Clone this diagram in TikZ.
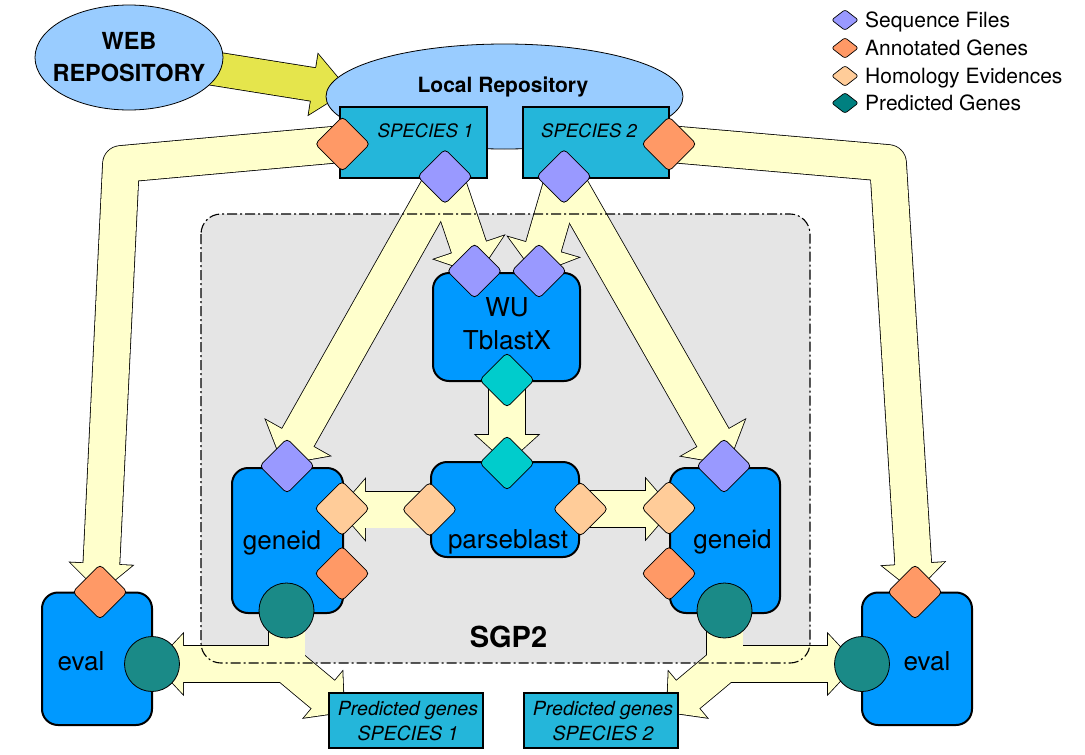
\documentclass[tikz,border=0pt]{standalone}
\usepackage{fontspec}
\setmainfont{TeX Gyre Heros}
\usetikzlibrary{calc,shapes.geometric}
\pgfdeclarelayer{paper}
\pgfdeclarelayer{sgpfill}
\pgfdeclarelayer{arrowout}
\pgfdeclarelayer{arrowin}
\pgfdeclarelayer{sgpline}
\pgfsetlayers{paper,sgpfill,arrowout,arrowin,sgpline,main}

\definecolor{lblue}{RGB}{153,204,255}
\definecolor{specblue}{RGB}{36,182,218}
\definecolor{procblue}{RGB}{0,153,255}
\definecolor{seqc}{RGB}{153,153,255}
\definecolor{annc}{RGB}{255,153,102}
\definecolor{homc}{RGB}{255,204,153}
\definecolor{predc}{RGB}{26,138,135}
\definecolor{predleg}{RGB}{0,128,128}
\definecolor{blastc}{RGB}{0,204,204}
\definecolor{fatc}{RGB}{255,255,204}
\definecolor{sgpgray}{RGB}{229,229,229}
\definecolor{webarrowc}{RGB}{229,229,76}

\tikzset{
  procbox/.style={rectangle, draw=black, line width=2pt, fill=procblue, rounded corners=16pt, inner sep=0pt},
  specbox/.style={rectangle, draw=black, line width=1.3pt, fill=specblue, inner sep=0pt},
  repo/.style={ellipse, draw=black, line width=0.8pt, fill=lblue, inner sep=0pt},
  datadia/.style={diamond, draw=black, line width=0.8pt, minimum width=55pt, minimum height=55pt, inner sep=0pt, rounded corners=4pt},
  legdia/.style={diamond, draw=black, line width=0.7pt, minimum width=27pt, minimum height=21pt, inner sep=0pt, rounded corners=2.5pt},
  predcirc/.style={circle, draw=black, line width=0.8pt, fill=predc, minimum size=55pt, inner sep=0pt},
  boxlabel/.style={inner sep=0pt, font=\fontsize{26}{33}\selectfont, align=center},
  speclabel/.style={inner sep=0pt, font=\fontsize{18.5}{24}\selectfont\itshape, anchor=base},
  predlabel/.style={inner sep=0pt, font=\fontsize{19.5}{25}\selectfont\itshape, align=center},
  leglabel/.style={inner sep=0pt, font=\fontsize{21}{25}\selectfont, anchor=base west},
  boldlabel/.style={inner sep=0pt, align=center},
  sgpborder/.style={draw=black, line width=1.1pt, dash pattern=on 10pt off 3pt on 2pt off 3pt, rounded corners=20pt},
  fatout/.style={draw=black, line width=37.6pt, line join=round},
  fatin/.style={draw=fatc, line width=36pt, line join=round},
}

\newcommand{\arrowlist}{%
 \onearrow{(s1ann.center) -- (c1)}{c1}{e1ann.center}{28}{62}%
 \onearrow{(s2ann.center) -- (c2)}{c2}{e2ann.center}{28}{62}%
 \onearrow{(s1seq.center)}{s1seq.center}{t3}{30}{73}%
 \onearrow{(s1seq.center)}{s1seq.center}{t4}{28}{73}%
 \onearrow{(s2seq.center)}{s2seq.center}{t5}{28}{73}%
 \onearrow{(s2seq.center)}{s2seq.center}{t6}{30}{73}%
 \onearrow{(wuout.center)}{wuout.center}{pbin.center}{28}{62}%
 \onearrow{(pbL.center)}{pbL.center}{t8}{26}{60}%
 \onearrow{(pbR.center)}{pbR.center}{t9}{26}{60}%
 \onearrow{(g1pred.center) -- (j1)}{j1}{t10}{28}{60}%
 \onearrow{(j1)}{j1}{t11}{27}{60}%
 \onearrow{(g2pred.center) -- (j2)}{j2}{t12}{28}{60}%
 \onearrow{(j2)}{j2}{t13}{27}{60}%
}

\begin{document}
\begin{tikzpicture}[x=1pt,y=-1pt]
\useasboundingbox (0,0) rectangle (1085,755);
\begin{pgfonlayer}{paper}
  \fill[white] (0,0) rectangle (1085,755);
\end{pgfonlayer}

% ---------- SGP2 area ----------
\coordinate (sgA) at (201,214);
\coordinate (sgB) at (810,663);
\begin{pgfonlayer}{sgpfill}
  \fill[sgpgray, rounded corners=20pt] (sgA) rectangle (sgB);
\end{pgfonlayer}
\begin{pgfonlayer}{sgpline}
  \draw[sgpborder] (sgA) rectangle (sgB);
\end{pgfonlayer}

% ---------- repositories ----------
\node[repo, minimum width=188pt, minimum height=105pt] (web) at (129,57.5) {};
\node[repo, minimum width=357pt, minimum height=105pt] (local) at (504.5,96.5) {};
\node[boldlabel, font=\fontsize{23.5}{32}\selectfont\bfseries] (webtext) at (129,57) {WEB\\REPOSITORY};
\node[boldlabel, font=\fontsize{21}{25}\selectfont\bfseries, anchor=base] (localtext) at (503,92) {Local Repository};

% ---------- boxes ----------
\node[specbox, minimum width=147pt, minimum height=71pt] (sp1) at (413.5,142.5) {};
\node[specbox, minimum width=146pt, minimum height=71pt] (sp2) at (596,142.5) {};
\node[procbox, minimum width=147pt, minimum height=108pt] (wu) at (506.5,327) {};
\node[procbox, minimum width=148pt, minimum height=95pt] (pb) at (505,509.5) {};
\node[procbox, minimum width=111pt, minimum height=145pt] (g1) at (287.5,540.5) {};
\node[procbox, minimum width=110pt, minimum height=145pt] (g2) at (725,540.5) {};
\node[procbox, minimum width=110pt, minimum height=132.5pt] (e1) at (97,658.75) {};
\node[procbox, minimum width=110pt, minimum height=132.5pt] (e2) at (917,658.75) {};
\node[specbox, minimum width=154pt, minimum height=55pt] (pr1) at (406,720.5) {};
\node[specbox, minimum width=154pt, minimum height=55pt] (pr2) at (601,720.5) {};

% ---------- labels ----------
\node[speclabel] (sp1text) at (425.5,137) {SPECIES 1};
\node[speclabel] (sp2text) at (589,137) {SPECIES 2};
\node[boxlabel] (wutext) at (507,324) {WU\\TblastX};
\node[boxlabel, anchor=base] (pbtext) at (508,548) {parseblast};
\node[boxlabel, anchor=base] (g1text) at (282,549) {geneid};
\node[boxlabel, anchor=base] (g2text) at (732.5,548) {geneid};
\node[boxlabel, anchor=base] (e1text) at (81,670) {eval};
\node[boxlabel, anchor=base] (e2text) at (927,670) {eval};
\node[predlabel] (pr1text) at (408,721) {Predicted genes\\SPECIES 1};
\node[predlabel] (pr2text) at (603,721) {Predicted genes\\SPECIES 2};
\node[boldlabel, font=\fontsize{29}{32}\selectfont\bfseries, anchor=base] (sgptext) at (508.5,647) {SGP2};

% ---------- data diamonds ----------
\node[datadia, fill=annc] (s1ann) at (342.5,144) {};
\node[datadia, fill=seqc] (s1seq) at (445,176.5) {};
\node[datadia, fill=seqc] (s2seq) at (564,176.5) {};
\node[datadia, fill=annc] (s2ann) at (669,144) {};
\node[datadia, fill=seqc] (wuA) at (474.5,271) {};
\node[datadia, fill=seqc] (wuB) at (539,271) {};
\node[datadia, fill=blastc] (wuout) at (507,380) {};
\node[datadia, fill=blastc] (pbin) at (507,463) {};
\node[datadia, fill=homc] (pbL) at (429.5,509.5) {};
\node[datadia, fill=homc] (pbR) at (580.5,509) {};
\node[datadia, fill=seqc] (g1seq) at (287,466) {};
\node[datadia, fill=homc] (g1hom) at (342,508.5) {};
\node[datadia, fill=annc] (g1ann) at (342,573.5) {};
\node[datadia, fill=seqc] (g2seq) at (724,466) {};
\node[datadia, fill=homc] (g2hom) at (669,508) {};
\node[datadia, fill=annc] (g2ann) at (669,573.5) {};
\node[datadia, fill=annc] (e1ann) at (100,592) {};
\node[datadia, fill=annc] (e2ann) at (915,592) {};
\node[predcirc] (g1pred) at (286.5,610.5) {};
\node[predcirc] (g2pred) at (724.5,610.5) {};
\node[predcirc] (e1pred) at (152,664) {};
\node[predcirc] (e2pred) at (862,664) {};

% ---------- legend ----------
\node[legdia, fill=seqc] (lg1) at (845,20) {};
\node[legdia, fill=annc] (lg2) at (845,48) {};
\node[legdia, fill=homc] (lg3) at (845,76) {};
\node[legdia, fill=predleg] (lg4) at (845,103) {};
\node[leglabel] (lt1) at (865,27.5) {Sequence Files};
\node[leglabel] (lt2) at (865,55.5) {Annotated Genes};
\node[leglabel] (lt3) at (865,83.5) {Homology Evidences};
\node[leglabel] (lt4) at (865,110.5) {Predicted Genes};

% ---------- arrow way points ----------
\coordinate (c1) at (121,164);
\coordinate (c2) at (888,163);
\coordinate (t3) at (283,464);
\coordinate (t4) at (478,274);
\coordinate (t5) at (535.5,274);
\coordinate (t6) at (728,464);
\coordinate (t8) at (339,509.5);
\coordinate (t9) at (672,509);
\coordinate (j1) at (286.5,664);
\coordinate (j2) at (724.5,664);
\coordinate (t10) at (155,664);
\coordinate (t11) at (344,712);
\coordinate (t12) at (856,664);
\coordinate (t13) at (667,712);
\coordinate (ws) at (160,60);
\coordinate (wt) at (348,90);

% web arrow geometry
\coordinate (whb) at ($(wt)!35pt!(ws)$);
\coordinate (wse) at ($(wt)!32pt!(ws)$);
\coordinate (wba) at ($(whb)!30.5pt!90:(wt)$);
\coordinate (wbb) at ($(whb)!30.5pt!-90:(wt)$);

% ---------- fat arrows: outlines ----------
\begin{pgfonlayer}{arrowout}
  \draw[draw=black, line width=34.6pt] (ws) -- (wse);
  \filldraw[black, line width=1.6pt, line join=miter] (wba) -- (wt) -- (wbb) -- cycle;
  \def\onearrow#1#2#3#4#5{%
    \pgfmathsetmacro\fathw{#5/2}%
    \pgfmathsetmacro\fatsd{#4-3}%
    \coordinate (fhb) at ($(#3)!#4pt!(#2)$);%
    \coordinate (fse) at ($(#3)!\fatsd pt!(#2)$);%
    \coordinate (fba) at ($(fhb)!\fathw pt!90:(#3)$);%
    \coordinate (fbb) at ($(fhb)!\fathw pt!-90:(#3)$);%
    \draw[fatout] #1 -- (fse);%
    \filldraw[black, line width=1.6pt, line join=miter] (fba) -- (#3) -- (fbb) -- cycle;%
  }
  \arrowlist
\end{pgfonlayer}

% ---------- fat arrows: fills ----------
\begin{pgfonlayer}{arrowin}
  \draw[draw=webarrowc, line width=33pt] (ws) -- (wse);
  \fill[webarrowc] (wba) -- (wt) -- (wbb) -- cycle;
  \def\onearrow#1#2#3#4#5{%
    \pgfmathsetmacro\fathw{#5/2}%
    \pgfmathsetmacro\fatsd{#4-3}%
    \coordinate (fhb) at ($(#3)!#4pt!(#2)$);%
    \coordinate (fse) at ($(#3)!\fatsd pt!(#2)$);%
    \coordinate (fba) at ($(fhb)!\fathw pt!90:(#3)$);%
    \coordinate (fbb) at ($(fhb)!\fathw pt!-90:(#3)$);%
    \draw[fatin] #1 -- (fse);%
    \fill[fatc] (fba) -- (#3) -- (fbb) -- cycle;%
  }
  \arrowlist
\end{pgfonlayer}
\end{tikzpicture}
\end{document}
